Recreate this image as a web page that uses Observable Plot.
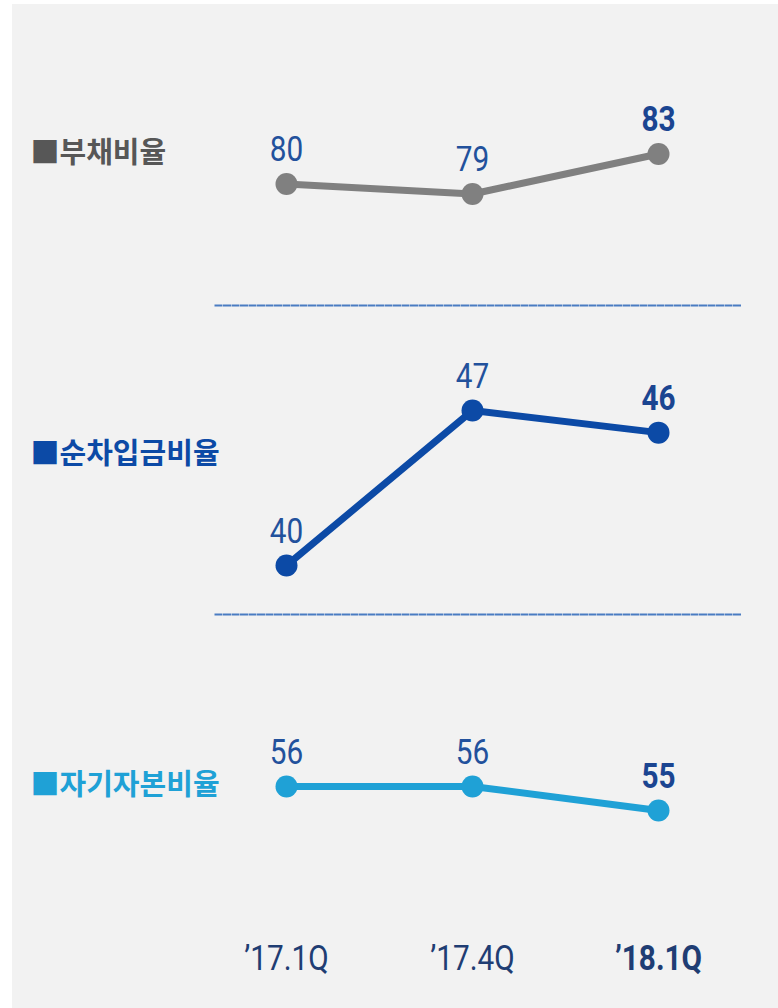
<!DOCTYPE html>
<html>
<head>
<meta charset="utf-8">
<script src="https://cdn.jsdelivr.net/npm/d3@7"></script>
<script src="https://cdn.jsdelivr.net/npm/@observablehq/plot@0.6"></script>
<style>
  html, body { margin: 0; padding: 0; background: #ffffff; }
  #chart { position: absolute; left: 12px; top: 4px; width: 766px; height: 1004px; background: #f2f2f2; overflow: hidden; }
  .panel { position: absolute; left: 0; }
  .panel svg { overflow: visible; }
</style>
</head>
<body>
<div id="chart"></div>
<script>
// ---- data ----
const quarters = ["’17.1Q", "’17.4Q", "’18.1Q"];
const seriesNames = ["부채비율", "순차입금비율", "자기자본비율"];
const debtRatio = [80, 79, 83];
const netDebtRatio = [40, 47, 46];
const equityRatio = [56, 56, 55];

// ---- styles ----
const seriesColors = ["#808080", "#0c4aa6", "#1fa1d6"];
const legendColors = ["#575757", "#0c4aa6", "#1fa1d6"];
const numFont = "Roboto, sans-serif";
const krFont = "'Noto Sans CJK KR', 'Noto Sans', sans-serif";
const labelColor = "#22519c";
const labelBold = "#1b4591";
const axisColor = "#1f3d73";
const squeeze = 0.85; // condensed look of the numerals

const W = 766;
const panels = [
  {values: debtRatio, top: 0, height: 300, marginTop: 0, marginBottom: 0, yDomain: [79, 83], yRange: [189.5, 149.5], legendDy: 149, frame: false, axis: false},
  {values: netDebtRatio, top: 300, height: 309, marginTop: 1, marginBottom: 0, yDomain: [40, 47], yRange: [261, 106], legendDy: 150, frame: true, axis: false},
  {values: equityRatio, top: 609, height: 395, marginTop: 1, marginBottom: 63, yDomain: [55, 56], yRange: [197, 173], legendDy: 172, frame: true, axis: true}
];

const chart = document.getElementById("chart");

panels.forEach((p, k) => {
  const data = quarters.map((q, i) => ({q, v: p.values[i], last: i === quarters.length - 1}));
  const marks = [];
  if (p.frame) {
    marks.push(Plot.frame({anchor: "top", stroke: "#4a7cc2", strokeWidth: 2, strokeDasharray: "6,2.5"}));
  }
  marks.push(
    Plot.text([seriesNames[k]], {
      text: d => "■" + d,
      frameAnchor: "top-left",
      dx: -185, dy: p.legendDy - p.marginTop,
      textAnchor: "start", lineAnchor: "middle",
      fill: legendColors[k], fontSize: 29, fontWeight: "bold", fontFamily: krFont
    }),
    Plot.line(data, {x: "q", y: "v", stroke: seriesColors[k], strokeWidth: 7, strokeLinejoin: "round"}),
    Plot.dot(data, {x: "q", y: "v", r: 11, fill: seriesColors[k], stroke: null}),
    Plot.text(data.filter(d => !d.last), {x: "q", y: "v", text: d => String(d.v), dy: -23, lineAnchor: "bottom",
      fill: labelColor, fontSize: 35, fontFamily: numFont, className: "num"}),
    Plot.text(data.filter(d => d.last), {x: "q", y: "v", text: d => String(d.v), dy: -23, lineAnchor: "bottom",
      fill: labelBold, fontSize: 35, fontWeight: "bold", fontFamily: numFont, className: "num"})
  );
  if (p.axis) {
    marks.push(
      Plot.axisX(quarters.slice(0, 2), {anchor: "bottom", tickSize: 0, tickPadding: 0, fontSize: 35, fontFamily: numFont, fill: axisColor, label: null, className: "num"}),
      Plot.axisX(quarters.slice(2), {anchor: "bottom", tickSize: 0, tickPadding: 0, fontSize: 35, fontFamily: numFont, fontWeight: "bold", fill: axisColor, label: null, className: "num"})
    );
  }
  const svg = Plot.plot({
    width: W,
    height: p.height,
    marginLeft: 203,
    marginRight: 38,
    marginTop: p.marginTop,
    marginBottom: p.marginBottom,
    style: {background: "transparent", overflow: "visible"},
    x: {type: "point", domain: quarters, range: [273, 646], padding: 0, axis: null},
    y: {domain: p.yDomain, range: p.yRange, axis: null},
    marks
  });
  // horizontally condense numeral texts around their anchor
  d3.select(svg).selectAll("text").each(function() {
    let el = this;
    let inNum = false;
    let n = el.parentNode;
    while (n && n !== svg) { if (n.classList && [...n.classList].some(c => c.startsWith("num"))) { inNum = true; break; } n = n.parentNode; }
    if (!inNum) return;
    const t = el.getAttribute("transform");
    if (t) el.setAttribute("transform", t + ` scale(${squeeze},1)`);
  });
  const wrap = document.createElement("div");
  wrap.className = "panel";
  wrap.style.top = p.top + "px";
  wrap.appendChild(svg);
  chart.appendChild(wrap);
});
</script>
</body>
</html>
